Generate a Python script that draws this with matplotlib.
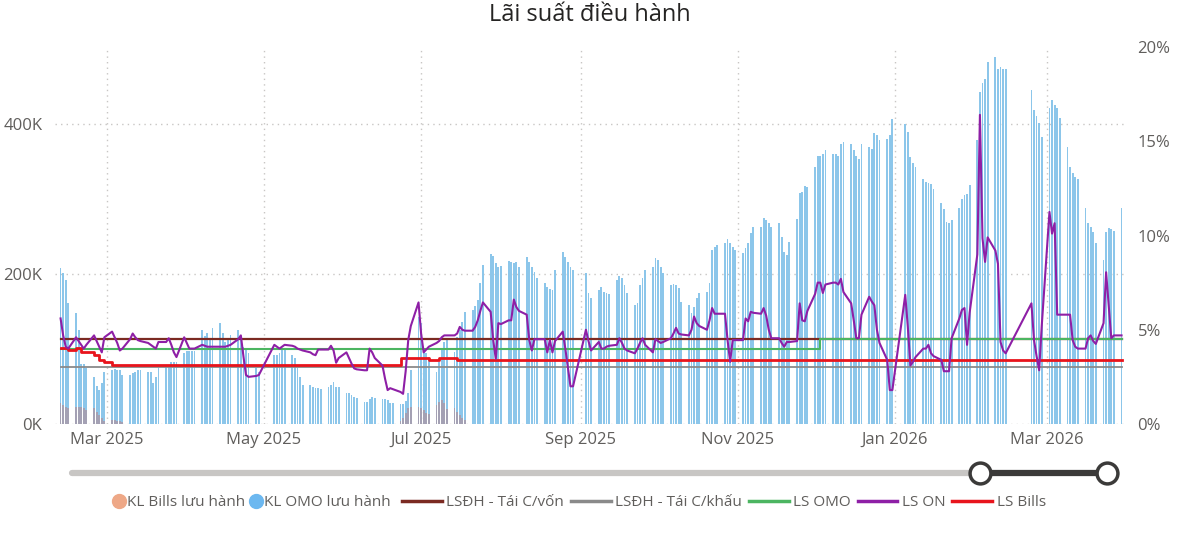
import numpy as np
import pandas as pd
import matplotlib
matplotlib.use('Agg')
import matplotlib.pyplot as plt
import matplotlib.dates as mdates
from matplotlib.lines import Line2D
from matplotlib.ticker import FuncFormatter

nan = np.nan

""" Data (read off the chart) """

start_day = '2025-02-11'
end_day = '2026-03-30'

# KL OMO luu hanh, nghin ty (K), one value per business day, week by week
kl_omo = [
    208, 201, 192, 161,            # 10/02 (tu 11/02)
    148, 125, 80, 80, 75,          # 17/02
    63, 51, 45, 55, 69,            # 24/02
    72, 74, 72, 72, 65,            # 03/03
    65, 68, 70, 72, 72,            # 10/03
    70, 70, 55, 63, 75,            # 17/03
    77, 79, 83, 83, 83,            # 24/03
    95, 97, 97, 97, 97,            # 31/03
    125, 118, 121, 112, 128,       # 07/04
    135, 121, 110, 112, 119,       # 14/04
    125, 114, 103, 99, 95,         # 21/04
    75, 70, nan, nan, nan,         # 28/04
    92, 92, 95, 99, 101,           # 05/05
    92, 88, 75, 63, 52,            # 12/05
    52, 49, 48, 48, 47,            # 19/05
    49, 52, 56, 49, 49,            # 26/05
    41, 41, 39, 36, 35,            # 02/06
    29, 29, 33, 36, 35,            # 09/06
    33, 33, 32, 28, 28,            # 16/06
    27, 27, 31, 41, 72,            # 23/06
    143, 135, 99, 95, 89,          # 30/06
    69, 83, 101, 110, 114,         # 07/07
    96, 116, 125, 136, 149,        # 14/07
    152, 158, 165, 188, 212,       # 21/07
    227, 224, 215, 209, 211,       # 28/07
    217, 216, 215, 216, 210,       # 04/08
    223, 216, 210, 203, 195,       # 11/08
    188, 183, 180, 179, 205,       # 18/08
    229, 223, 216, 210, 206,       # 25/08
    nan, nan, 201, 175, 168,       # 01/09
    179, 183, 176, 175, 173,       # 08/09
    192, 197, 195, 185, 175,       # 15/09
    159, 161, 185, 195, 205,       # 22/09
    209, 221, 219, 209, 201,       # 29/09
    185, 187, 185, 181, 163,       # 06/10
    159, 148, 156, 168, 175,       # 13/10
    176, 188, 232, 236, 239,       # 20/10
    241, 247, 241, 236, 232,       # 27/10
    228, 235, 241, 255, 263,       # 03/11
    263, 275, 272, 268, 263,       # 10/11
    268, 249, 229, 225, 243,       # 17/11
    273, 308, 309, 317, 316,       # 24/11
    343, 358, 358, 360, 365,       # 01/12
    360, 360, 358, 374, 376,       # 08/12
    373, 365, 358, 353, 373,       # 15/12
    369, 367, 388, 386, 379,       # 22/12
    380, 385, 407, nan, nan,       # 29/12
    400, 389, 356, 348, 343,       # 05/01
    327, 323, 321, 320, 313,       # 12/01
    295, 287, 269, 268, 272,       # 19/01
    288, 300, 305, 307, 319,       # 26/01
    379, 443, 455, 460, 483,       # 02/02
    490, 474, 476, 474, 474,       # 09/02
    nan, nan, nan, nan, nan,       # 16/02 (Tet)
    445, 419, 411, 401, 383,       # 23/02
    421, 432, 425, 421, 408,       # 02/03
    369, 343, 335, 329, 327,       # 09/03
    288, 268, 263, 256, 241,       # 16/03
    219, 256, 261, 260, 257,       # 23/03
    288,                           # 30/03
]

# LS ON (%), same days
ls_on = [
    5.6, 4.7, 4.1, 4.0,
    4.6, 4.4, 4.2, 4.0, 4.2,
    4.7, 4.4, 4.1, 3.8, 4.6,
    4.9, 4.6, 4.3, 3.9, 4.0,
    4.5, 4.8, 4.6, 4.45, 4.4,
    4.3, 4.2, 4.1, 4.0, 4.35,
    4.35, 4.55, 4.2, 3.8, 3.55,
    4.6, 4.3, 4.0, 4.0, 4.0,
    4.2, 4.15, 4.1, 4.1, 4.1,
    4.1, 4.1, 4.1, 4.15, 4.2,
    4.5, 4.7, 3.6, 2.6, 2.5,
    2.55, 2.6, nan, nan, nan,
    4.2, 4.1, 4.0, 4.1, 4.2,
    4.15, 4.1, 4.0, 3.95, 3.9,
    3.8, 3.7, 3.65, 3.95, 3.95,
    3.95, 4.15, 3.9, 3.25, 3.5,
    3.8, 3.5, 3.2, 2.95, 2.9,
    2.85, 2.85, 4.0, 3.8, 3.5,
    3.1, 2.4, 1.8, 1.9, 1.85,
    1.7, 1.6, 2.8, 4.45, 5.2,
    6.45, 4.8, 3.8, 3.95, 4.1,
    4.3, 4.4, 4.6, 4.7, 4.7,
    4.7, 4.8, 5.15, 5.0, 4.95,
    4.95, 5.15, 5.5, 6.0, 6.45,
    5.95, 4.45, 3.45, 5.35, 5.3,
    5.5, 5.5, 6.6, 6.2, 6.0,
    5.8, 4.45, 3.9, 4.5, 4.5,
    4.5, 3.8, 4.45, 3.8, 4.4,
    4.9, 4.0, 3.0, 2.0, 2.0,
    nan, nan, 5.0, 4.4, 3.9,
    4.35, 4.0, 4.0, 4.1, 4.15,
    4.2, 4.55, 4.3, 4.0, 3.9,
    3.75, 4.0, 4.3, 4.55, 4.2,
    3.8, 4.5, 4.4, 4.3, 4.35,
    4.55, 4.8, 5.1, 4.8, 4.75,
    4.7, 5.0, 5.7, 5.35, 5.2,
    5.0, 5.5, 6.15, 5.85, 5.85,
    5.85, 4.45, 3.3, 4.45, 4.45,
    4.45, 5.6, 5.45, 5.95, 5.9,
    5.85, 6.15, 5.75, 5.0, 4.55,
    4.55, 4.3, 4.1, 4.35, 4.35,
    4.4, 6.4, 5.5, 5.45, 6.0,
    6.9, 7.5, 7.5, 6.95, 7.4,
    7.5, 7.5, 7.4, 7.7, 7.0,
    6.4, 5.5, 4.55, 4.55, 5.8,
    6.75, 6.5, 6.3, 5.0, 4.3,
    3.4, 1.8, 1.8, nan, nan,
    6.85, 5.15, 3.1, 3.3, 3.55,
    4.0, 4.0, 4.2, 3.75, 3.6,
    3.4, 2.8, 2.8, 2.8, 4.55,
    5.6, 6.05, 6.15, 4.2, 5.9,
    9.0, 16.4, 9.85, 8.6, 9.9,
    9.2, 8.5, 4.35, 3.9, 3.75,
    nan, nan, nan, nan, nan,
    6.4, 4.45, 3.6, 2.85, 5.2,
    11.25, 10.1, 10.65, 5.8, 5.8,
    5.8, 5.8, 4.45, 4.1, 4.0,
    4.0, 4.55, 4.7, 4.4, 4.25,
    5.35, 8.05, 6.3, 4.55, 4.7,
    4.7,
]

# KL Bills luu hanh (K), two issuing periods
bills_periods = [('2025-02-11', '2025-03-07'), ('2025-06-23', '2025-07-18')]
kl_bills = [
    28, 25, 23, 21,
    23, 23, 23, 22, 19,
    21, 16, 12, 8, 4,
    5, 5, 4, 4, 3,
    4, 8, 15, 22, 23,
    23, 22, 19, 15, 14,
    26, 30, 32, 28, 20,
    21, 16, 12, 8, 5,
]

# LS Bills (%), value from each change day on
bills_rate_days = ['2025-02-11', '2025-02-14', '2025-02-17', '2025-02-19', '2025-02-24',
                   '2025-02-26', '2025-02-28', '2025-03-03', '2025-06-23', '2025-07-04',
                   '2025-07-08', '2025-07-15']
ls_bills = [4.03, 3.93, 4.03, 3.82, 3.66, 3.4, 3.3, 3.13, 3.5, 3.42, 3.48, 3.4]

# LS OMO (%)
omo_rate_days = ['2025-02-11', '2025-12-03']
ls_omo = [4.0, 4.5]

# Lai suat dieu hanh (%)
ls_tai_cap_von = 4.5
ls_tai_chiet_khau = 3.0

""" Build series """

days = pd.bdate_range(start_day, end_day)
assert len(days) == len(kl_omo) == len(ls_on)
end_ts = pd.Timestamp(end_day)

bill_days = pd.DatetimeIndex(np.concatenate([pd.bdate_range(a, b) for a, b in bills_periods]))
assert len(bill_days) == len(kl_bills)

on = pd.Series(ls_on, index=days).dropna()

def step_series(change_days, values):
    idx = list(pd.to_datetime(change_days)) + [end_ts]
    return idx, list(values) + [values[-1]]

""" Plot """

plt.rcParams['font.family'] = ['Open Sans', 'DejaVu Sans']
grey_txt = '#605e5c'

fig = plt.figure(figsize=(12, 5.39), dpi=100)
ax = fig.add_axes([55/1200, 1 - 424/539, 1070/1200, 377/539])
ax2 = ax.twinx()

ax.bar(days, np.array(kl_omo, dtype=float)*1000, width=0.7, color='#8cc6ea', zorder=2)
ax.bar(bill_days, np.array(kl_bills, dtype=float)*1000, width=0.7, color='#a4a1b4', zorder=3)

ax2.plot([days[0], end_ts], [ls_tai_cap_von]*2, color='#7b2a22', lw=1.6, zorder=3)
ax2.plot([days[0], end_ts], [ls_tai_chiet_khau]*2, color='#8a8a8a', lw=1.3, zorder=3)
x_omo, y_omo = step_series(omo_rate_days, ls_omo)
ax2.plot(x_omo, y_omo, drawstyle='steps-post', color='#4cb561', lw=1.5, zorder=4)
x_b, y_b = step_series(bills_rate_days, ls_bills)
ax2.plot(x_b, y_b, drawstyle='steps-post', color='#e8141c', lw=2.0, zorder=5)
ax2.plot(on.index, on.values, color='#8e1fa6', lw=1.5, zorder=6)

ax.set_xlim(pd.Timestamp('2025-02-08 20:00'), pd.Timestamp('2026-03-31 08:00'))
ax.set_ylim(0, 502700)
ax2.set_ylim(0, 20)

ax.set_yticks([0, 200000, 400000])
ax.yaxis.set_major_formatter(FuncFormatter(lambda v, p: '%dK' % round(v/1000)))
ax2.set_yticks([0, 5, 10, 15, 20])
ax2.yaxis.set_major_formatter(FuncFormatter(lambda v, p: '%d%%' % v))

ax.xaxis.set_major_locator(mdates.MonthLocator(bymonth=[1, 3, 5, 7, 9, 11]))
ax.xaxis.set_major_formatter(mdates.DateFormatter('%b %Y'))

for a in (ax, ax2):
    for s in a.spines.values():
        s.set_visible(False)
ax.tick_params(axis='both', length=0, labelsize=12, colors=grey_txt)
ax.tick_params(axis='x', pad=6)
ax.tick_params(axis='y', pad=9)
ax2.tick_params(axis='y', length=0, labelsize=12, colors=grey_txt, pad=9)
ax.grid(True, linestyle=(0, (1, 3)), color='#c8c6c4', lw=1)
ax.set_axisbelow(True)

fig.text(590/1200, 1 - 15/539, 'Lãi suất điều hành', ha='center', va='center',
         fontsize=17, color='#252423')

# range slider under the chart
over = fig.add_axes([0, 0, 1, 1], zorder=-5)
over.set_xlim(0, 1200)
over.set_ylim(539, 0)
over.axis('off')
over.plot([72, 980], [473, 473], color='#c8c6c4', lw=4.5, solid_capstyle='round')
over.plot([980, 1107], [473, 473], color='#3b3a39', lw=4.5)
over.plot([980, 1107], [473, 473], 'o', ms=15, mfc='white', mec='#3b3a39', mew=2.5)

# legend
h_dots = [Line2D([], [], marker='o', ls='', ms=10, color='#eea887'),
          Line2D([], [], marker='o', ls='', ms=10, color='#6cb8f0')]
l_dots = ['KL Bills lưu hành', 'KL OMO lưu hành']
h_lines = [Line2D([], [], color='#7b2a22', lw=2.5),
           Line2D([], [], color='#8a8a8a', lw=2.5),
           Line2D([], [], color='#4cb561', lw=2.5),
           Line2D([], [], color='#8e1fa6', lw=2.5),
           Line2D([], [], color='#e8141c', lw=2.5)]
l_lines = ['LSĐH - Tái C/vốn', 'LSĐH - Tái C/khấu', 'LS OMO', 'LS ON', 'LS Bills']
leg1 = fig.legend(h_dots, l_dots, loc='center left', bbox_to_anchor=(115/1200, 1 - 503/539),
                  ncol=2, frameon=False, fontsize=11, handlelength=0.55, handletextpad=0.25,
                  columnspacing=0.45, labelcolor=grey_txt, borderaxespad=0, borderpad=0)
leg2 = fig.legend(h_lines, l_lines, loc='center left', bbox_to_anchor=(402/1200, 1 - 503/539),
                  ncol=5, frameon=False, fontsize=11, handlelength=2.6, handletextpad=0.3,
                  columnspacing=0.45, labelcolor=grey_txt, borderaxespad=0, borderpad=0)

fig.savefig('out.png', dpi=100, facecolor='white')
